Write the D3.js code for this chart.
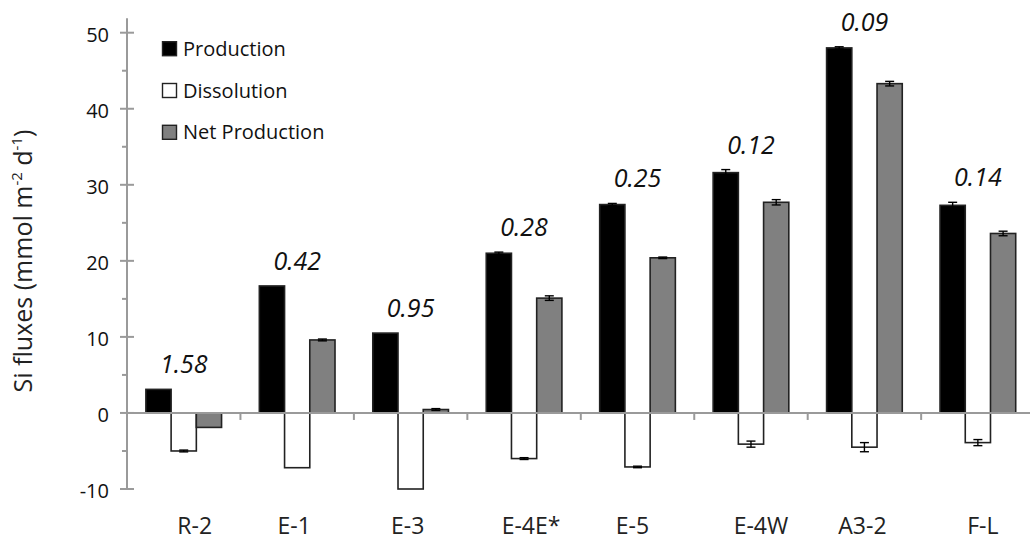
<!DOCTYPE html>
<html>
<head>
<meta charset="utf-8">
<script src="https://cdn.jsdelivr.net/npm/d3@7"></script>
<style>
  html, body { margin: 0; padding: 0; background: #fff; }
  svg { display: block; }
  text { font-family: "Open Sans", "Noto Sans", sans-serif; }
</style>
</head>
<body>
<svg id="chart" width="1030" height="541"></svg>
<script>
// ---- data ----
const categories = ["R-2", "E-1", "E-3", "E-4E*", "E-5", "E-4W", "A3-2", "F-L"];
const seriesNames = ["Production", "Dissolution", "Net Production"];
const production    = [3.1, 16.7, 10.5, 21.0, 27.4, 31.6, 48.0, 27.3];
const dissolution   = [-5.0, -7.2, -10.0, -6.0, -7.1, -4.1, -4.5, -3.9];
const netProduction = [-1.9, 9.6, 0.45, 15.1, 20.4, 27.7, 43.3, 23.6];
const productionErr    = [0, 0, 0, 0.15, 0.15, 0.4, 0.15, 0.4];
const dissolutionErr   = [0.12, 0, 0, 0.12, 0.1, 0.4, 0.6, 0.4];
const netProductionErr = [0, 0.12, 0.12, 0.3, 0.1, 0.35, 0.3, 0.3];
const ratioLabels = ["1.58", "0.42", "0.95", "0.28", "0.25", "0.12", "0.09", "0.14"];
const yTicks = [-10, 0, 10, 20, 30, 40, 50];
const yMinorTicks = [-5, 5, 15, 25, 35, 45];

// ---- styles / layout ----
const fills = ["#000000", "#ffffff", "#808080"];
const axisColor = "#9a9a9a";
// small horizontal nudges of category labels, as in the original figure
const labelNudge = [11, -3, -3, 7, -5, 10, -2, 5];

const svg = d3.select("#chart");

const y = d3.scaleLinear().domain([-10, 50]).range([489, 32.7]);
const x0 = d3.scaleBand().domain(categories).range([127, 1034.6])
  .paddingInner(0.333).paddingOuter(0.1665);
const x1 = d3.scaleBand().domain(seriesNames).range([0, x0.bandwidth()]);

const values = [production, dissolution, netProduction];
const errs = [productionErr, dissolutionErr, netProductionErr];

const rows = [];
categories.forEach((c, i) => {
  seriesNames.forEach((s, j) => {
    rows.push({cat: c, series: s, j: j, v: values[j][i], e: errs[j][i]});
  });
});

// ---- y axis ----
const gAxis = svg.append("g");
gAxis.append("line")
  .attr("x1", x0.range()[0]).attr("x2", x0.range()[0])
  .attr("y1", y(-10)).attr("y2", y(51.9))
  .attr("stroke", axisColor).attr("stroke-width", 2);
gAxis.selectAll(".ymaj").data(yTicks).enter().append("line")
  .attr("x1", x0.range()[0] - 7).attr("x2", x0.range()[0] + 7)
  .attr("y1", d => y(d)).attr("y2", d => y(d))
  .attr("stroke", axisColor).attr("stroke-width", 2);
gAxis.selectAll(".ymin").data(yMinorTicks).enter().append("line")
  .attr("x1", x0.range()[0] - 5).attr("x2", x0.range()[0])
  .attr("y1", d => y(d)).attr("y2", d => y(d))
  .attr("stroke", axisColor).attr("stroke-width", 2);
gAxis.selectAll(".ylab").data(yTicks).enter().append("text")
  .attr("x", 109).attr("y", d => y(d) + 2)
  .attr("dy", "0.35em")
  .attr("text-anchor", "end")
  .attr("font-size", 20)
  .attr("fill", "#111")
  .text(d => d);

// ---- bars ----
const g = svg.append("g");
g.selectAll("rect.bar").data(rows).enter().append("rect")
  .attr("x", d => x0(d.cat) + x1(d.series))
  .attr("width", x1.bandwidth())
  .attr("y", d => Math.min(y(d.v), y(0)))
  .attr("height", d => Math.abs(y(d.v) - y(0)))
  .attr("fill", d => fills[d.j])
  .attr("stroke", "#222")
  .attr("stroke-width", 1.6);

// ---- x axis ----
const xAxisY = y(0);
svg.append("line")
  .attr("x1", x0.range()[0]).attr("x2", 1030)
  .attr("y1", xAxisY).attr("y2", xAxisY)
  .attr("stroke", axisColor).attr("stroke-width", 2);
const boundaries = d3.range(1, categories.length).map(i => x0.range()[0] + i * x0.step());
svg.selectAll(".xt").data(boundaries).enter().append("line")
  .attr("x1", d => d).attr("x2", d => d)
  .attr("y1", xAxisY).attr("y2", xAxisY + 7)
  .attr("stroke", axisColor).attr("stroke-width", 2);

// ---- error bars ----
const errRows = rows.filter(d => d.e > 0);
const eg = svg.append("g").attr("stroke", "#000").attr("stroke-width", 1.4);
errRows.forEach(d => {
  const cx = x0(d.cat) + x1(d.series) + x1.bandwidth() / 2;
  eg.append("line").attr("x1", cx).attr("x2", cx)
    .attr("y1", y(d.v - d.e)).attr("y2", y(d.v + d.e));
  [d.v - d.e, d.v + d.e].forEach(v => {
    eg.append("line").attr("x1", cx - 4.5).attr("x2", cx + 4.5)
      .attr("y1", y(v)).attr("y2", y(v));
  });
});

// ---- ratio annotations ----
svg.selectAll(".ratio").data(categories).enter().append("text")
  .attr("x", d => x0(d) + x0.bandwidth() / 2)
  .attr("y", (d, i) => y(production[i] + productionErr[i]) - 16)
  .attr("text-anchor", "middle")
  .attr("font-size", 25)
  .attr("font-style", "italic")
  .attr("fill", "#111")
  .text((d, i) => ratioLabels[i]);

// ---- category labels ----
svg.selectAll(".xlab").data(categories).enter().append("text")
  .attr("x", (d, i) => x0(d) + x0.bandwidth() / 2 + labelNudge[i])
  .attr("y", 534)
  .attr("text-anchor", "middle")
  .attr("font-size", 23)
  .attr("fill", "#222")
  .text(d => d);

// ---- y title ----
const yt = svg.append("text")
  .attr("transform", "translate(32,261) rotate(-90)")
  .attr("text-anchor", "middle")
  .attr("font-size", 25)
  .attr("fill", "#222");
yt.append("tspan").text("Si fluxes (mmol m");
yt.append("tspan").attr("font-size", 15).attr("dy", -10).text("-2");
yt.append("tspan").attr("dy", 10).text(" d");
yt.append("tspan").attr("font-size", 15).attr("dy", -10).text("-1");
yt.append("tspan").attr("dy", 10).text(")");

// ---- legend ----
const legend = svg.append("g");
seriesNames.forEach((s, j) => {
  const cy = 48.7 + j * 41.8;
  legend.append("rect")
    .attr("x", 162.5).attr("y", cy - 7)
    .attr("width", 14).attr("height", 14)
    .attr("fill", fills[j]).attr("stroke", "#222").attr("stroke-width", 1.4);
  legend.append("text")
    .attr("x", 183).attr("y", cy + 7)
    .attr("font-size", 20)
    .attr("fill", "#111")
    .text(s);
});
</script>
</body>
</html>
